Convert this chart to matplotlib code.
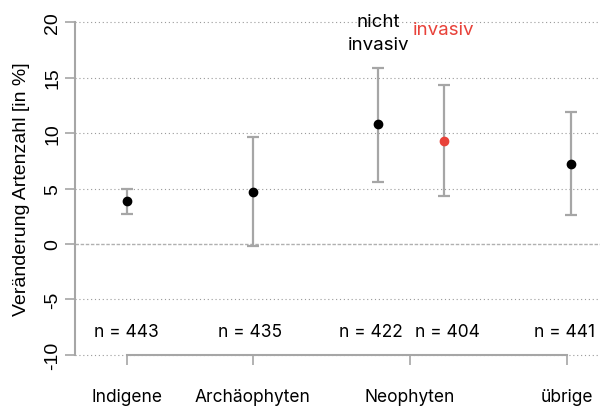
import numpy as np
import matplotlib
matplotlib.use("Agg")
import matplotlib.pyplot as plt

# Data
group_pos = [1, 2, 3, 3.52, 4.53]
group_mean = [3.85, 4.7, 10.8, 9.3, 7.25]
group_low = [2.7, -0.2, 5.6, 4.3, 2.6]
group_high = [5.0, 9.6, 15.9, 14.3, 11.9]
group_color = ["black", "black", "black", "#e8423a", "black"]
n_labels = ["n = 443", "n = 435", "n = 422", "n = 404", "n = 441"]
n_label_pos = [1, 1.98, 2.94, 3.55, 4.48]

cat_pos = [1, 2, 3.25, 4.5]
cat_labels = ["Indigene", "Archäophyten", "Neophyten", "übrige"]
y_ticks = [-10, -5, 0, 5, 10, 15, 20]

grey = "#a6a6a6"
txt_font = ["Inter", "DejaVu Sans"]

fig = plt.figure(figsize=(6, 4.14), dpi=100)
ax = fig.add_axes([0.125, 0.1135, 0.875, 0.8575])
ax.set_xlim(0.59, 4.76)
ax.set_ylim(-11, 21)

# Grid lines
for yv in y_ticks:
    if yv == 0:
        ax.axhline(yv, color="#b0b0b0", lw=1.0, ls=(0, (2.5, 1.2)), zorder=1)
    else:
        ax.axhline(yv, color="#9a9a9a", lw=0.8, ls=(0, (1, 2.5)), zorder=1)

# Error bars and points
for x, m, lo, hi, c in zip(group_pos, group_mean, group_low, group_high, group_color):
    ax.errorbar([x], [m], yerr=[[m - lo], [hi - m]], fmt="none", ecolor=grey,
                elinewidth=1.6, capsize=4, capthick=1.6, zorder=2)
    ax.plot([x], [m], "o", color=c, ms=6, zorder=3)

for x, lab in zip(n_label_pos, n_labels):
    ax.text(x, -7.9, lab, ha="center", va="center", fontsize=12.5, family=txt_font)

ax.text(3, 19.0, "nicht\ninvasiv", ha="center", va="center", fontsize=13.5,
        family=txt_font, linespacing=1.45)
ax.text(3.52, 19.3, "invasiv", ha="center", va="center", fontsize=13.5,
        family=txt_font, color="#e8423a")

# Axes in R style
for s in ["top", "right"]:
    ax.spines[s].set_visible(False)
ax.spines["left"].set_bounds(-10, 20)
ax.spines["left"].set_color(grey)
ax.spines["left"].set_linewidth(1.5)
ax.spines["bottom"].set_position(("data", -10))
ax.spines["bottom"].set_bounds(1, 4.5)
ax.spines["bottom"].set_color(grey)
ax.spines["bottom"].set_linewidth(1.5)

ax.set_yticks(y_ticks)
ax.set_yticklabels([str(v) for v in y_ticks], rotation=90, va="center",
                   fontsize=14, family="Liberation Sans")
ax.tick_params(axis="y", length=7, width=1.2, color=grey, pad=3)

ax.set_xticks(cat_pos)
ax.set_xticklabels(cat_labels, fontsize=12.5, family=txt_font)
ax.tick_params(axis="x", length=7, width=1.2, color=grey, pad=17)

ax.set_ylabel("Veränderung Artenzahl [in %]", fontsize=14, family="Liberation Sans",
              labelpad=10)

fig.savefig("out.png", dpi=100)
